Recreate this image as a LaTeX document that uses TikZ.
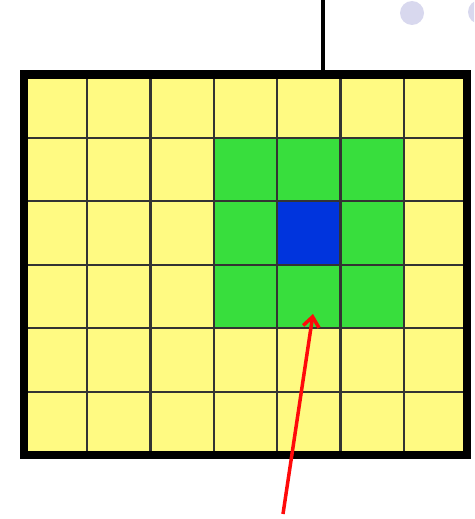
\documentclass[tikz,border=0pt]{standalone}
\usetikzlibrary{arrows.meta}
\definecolor{cellyellow}{RGB}{255,250,130}
\definecolor{cellgreen}{RGB}{56,222,61}
\definecolor{cellblue}{RGB}{0,52,221}
\definecolor{dotlav}{RGB}{216,216,238}
\definecolor{arrowred}{RGB}{255,10,10}
\tikzset{
  gridline/.style={draw=black!80, line width=2.2pt},
  frame/.style={draw=black, line width=8.5pt},
  pointer/.style={draw=arrowred, line width=3.5pt, -{Straight Barb[length=10pt,width=16pt]}},
}
\begin{document}
\begin{tikzpicture}[x=1pt,y=-1pt]
\useasboundingbox (0,0) rectangle (474,519);
\clip (0,0) rectangle (474,519);
% decorative dots
\fill[dotlav] (412,13) circle (12);
\fill[dotlav] (480,12) circle (12);
% top line
\draw[line width=3.5pt] (323,0) -- (323,72);
% cells
\def\xo{24}\def\yo{74.5}\def\cw{63.29}\def\ch{63.42}
\fill[cellyellow] (\xo,\yo) rectangle (467,455);
\fill[cellgreen] ({\xo+3*\cw},{\yo+1*\ch}) rectangle ({\xo+6*\cw},{\yo+4*\ch});
\fill[cellblue] ({\xo+4*\cw},{\yo+2*\ch}) rectangle ({\xo+5*\cw},{\yo+3*\ch});
% grid lines
\foreach \i in {1,...,6} \draw[gridline] ({\xo+\i*\cw},\yo) -- ({\xo+\i*\cw},455);
\foreach \j in {1,...,5} \draw[gridline] (\xo,{\yo+\j*\ch}) -- (467,{\yo+\j*\ch});
% frame
\draw[frame] (\xo,\yo) rectangle (467,455);
% arrow
\coordinate (tail) at (283,514);
\coordinate (tip) at (313,314);
\draw[pointer] (tail) -- (tip);
\end{tikzpicture}
\end{document}
